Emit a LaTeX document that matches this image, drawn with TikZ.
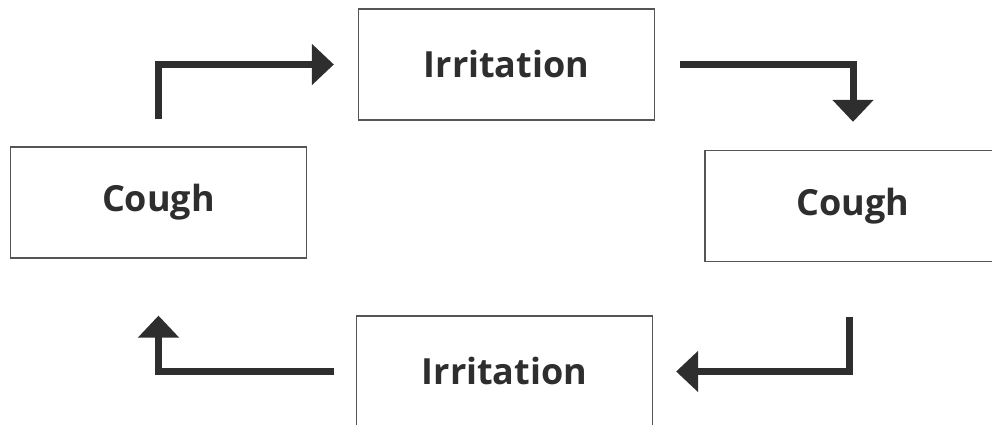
\documentclass[tikz,border=0pt]{standalone}
\usepackage{fontspec}
\setmainfont{Open Sans}
\usetikzlibrary{arrows.meta}
\definecolor{boxgray}{HTML}{555555}
\definecolor{inkgray}{HTML}{2E2E2E}

\begin{document}
\begin{tikzpicture}[x=1pt, y=1pt, font=\fontsize{36}{42}\selectfont\bfseries,
    box/.style={draw=boxgray, line width=1.3pt, minimum width=296pt, minimum height=111pt, inner sep=0pt, text=inkgray},
    flow/.style={inkgray, line width=7pt, -{Triangle[length=22pt, width=40pt]}}]
        \useasboundingbox (0,0) rectangle (992,425);
        \clip (0,0) rectangle (992,425);
        % Boxes
        \node[box] (irrtop) at (506.5,360.5) {Irritation};
        \node[box] (coughleft) at (158.5,222.5) {Cough};
        \node[box] (coughright) at (853,219) {Cough};
        \node[box] (irrbot) at (504.5,53.5) {Irritation};
        % Loop arrows
        \draw[flow] ([yshift=27pt]coughleft.north) |- ([xshift=-24pt]irrtop.west);
        \draw[flow] ([xshift=25pt]irrtop.east) -| ([yshift=28pt]coughright.north);
        \draw[flow] ([xshift=-4pt, yshift=-55pt]coughright.south) |- ([xshift=23pt]irrbot.east);
        \draw[flow] ([xshift=-22pt]irrbot.west) -| ([yshift=-57pt]coughleft.south);
      \end{tikzpicture}
\end{document}
